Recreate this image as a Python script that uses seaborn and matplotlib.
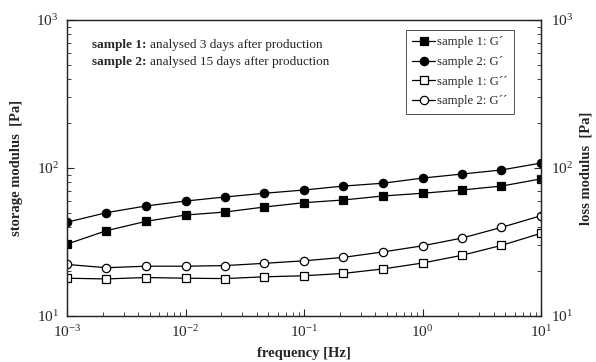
import numpy as np
import pandas as pd
import matplotlib
matplotlib.use("Agg")
import matplotlib.pyplot as plt
import matplotlib.ticker as mticker
import seaborn as sns

freq = [0.001, 0.00215, 0.00464, 0.01, 0.0215, 0.0464, 0.1, 0.215, 0.464, 1.0, 2.15, 4.64, 10.0]
s1_gp = [30.6, 37.7, 43.6, 48.1, 50.4, 54.5, 58.3, 60.8, 64.7, 67.5, 71.0, 75.5, 84.4]
s2_gp = [43.0, 49.9, 55.4, 59.8, 63.7, 67.5, 71.0, 75.5, 78.9, 85.5, 91.0, 97.0, 108.0]
s1_gpp = [18.0, 17.8, 18.2, 18.0, 17.9, 18.4, 18.7, 19.4, 20.8, 22.8, 25.7, 30.0, 36.2]
s2_gpp = [22.3, 21.2, 21.7, 21.7, 21.9, 22.7, 23.6, 24.9, 27.1, 29.8, 33.6, 39.7, 47.6]
labels = ["sample 1: G\u00b4", "sample 2: G\u00b4", "sample 1: G\u00b4\u00b4", "sample 2: G\u00b4\u00b4"]
notes_bold = ["sample 1:", "sample 2:"]
notes_rest = ["analysed 3 days after production", "analysed 15 days after production"]

sns.set_style("ticks")
plt.rcParams["font.family"] = ["Liberation Serif", "DejaVu Serif"]
plt.rcParams["mathtext.fontset"] = "custom"
plt.rcParams["mathtext.rm"] = "Liberation Serif"
plt.rcParams["mathtext.it"] = "Liberation Serif:italic"
plt.rcParams["mathtext.bf"] = "Liberation Serif:bold"

fig = plt.figure(figsize=(5.96, 3.62), dpi=100)
ax = fig.add_axes([67/596, 1-316/362, (541-67)/596, (316-20)/362])

series = [s1_gp, s2_gp, s1_gpp, s2_gpp]
markers = ["s", "o", "s", "o"]
faces = ["black", "black", "white", "white"]
for vals, m, fc, lab in zip(series, markers, faces, labels):
    sns.lineplot(x=freq, y=vals, ax=ax, color="black", marker=m, markersize=6,
                 markerfacecolor=fc, markeredgecolor="black", markeredgewidth=0.9,
                 linewidth=0.9, label=lab)

ax.set_xscale("log")
ax.set_yscale("log")
ax.set_xlim(1e-3, 10)
ax.set_ylim(10, 1000)
for sp in ax.spines.values():
    sp.set_linewidth(1.0)
    sp.set_visible(True)

ax.tick_params(which="both", direction="in", top=False, right=False, labelsize=11)
ax.tick_params(which="major", length=5, width=0.8, pad=6)
ax.tick_params(which="minor", length=3, width=0.6)
ax.xaxis.set_minor_locator(mticker.LogLocator(base=10, subs=np.arange(2, 10)))
ax.yaxis.set_minor_locator(mticker.LogLocator(base=10, subs=np.arange(2, 10)))
ax.xaxis.set_minor_formatter(mticker.NullFormatter())
ax.yaxis.set_minor_formatter(mticker.NullFormatter())

ax2 = ax.twinx()
ax2.set_yscale("log")
ax2.set_ylim(10, 1000)
ax2.yaxis.set_minor_locator(mticker.LogLocator(base=10, subs=np.arange(2, 10)))
ax2.yaxis.set_minor_formatter(mticker.NullFormatter())
ax2.tick_params(which="both", direction="in", labelsize=11)
ax2.tick_params(which="major", length=5, width=0.8, pad=7)
ax2.tick_params(which="minor", length=3, width=0.6)

ax.set_xlabel("frequency [Hz]", fontsize=10.5, fontweight="bold", labelpad=5)
ax.set_ylabel("storage modulus  [Pa]", fontsize=10.5, fontweight="bold", labelpad=10)
ax2.set_ylabel("loss modulus  [Pa]", fontsize=10.5, fontweight="bold", labelpad=5)

for yy, b, r in zip([0.915, 0.857], notes_bold, notes_rest):
    t1 = ax.text(0.053, yy, b, transform=ax.transAxes, fontsize=9.5, fontweight="bold", va="center")
    ax.annotate(r, xy=(1, 0.5), xycoords=t1, xytext=(2.5, 0), textcoords="offset points",
                fontsize=9.5, va="center", ha="left")

leg = ax.legend(loc="upper right", bbox_to_anchor=(0.943, 0.966), fontsize=9.2, frameon=True,
                fancybox=False, edgecolor="black", handlelength=1.8, handletextpad=0.15,
                borderpad=0.5, labelspacing=0.6, borderaxespad=0)
leg.get_frame().set_linewidth(0.6)

fig.savefig("out.png", dpi=100)
